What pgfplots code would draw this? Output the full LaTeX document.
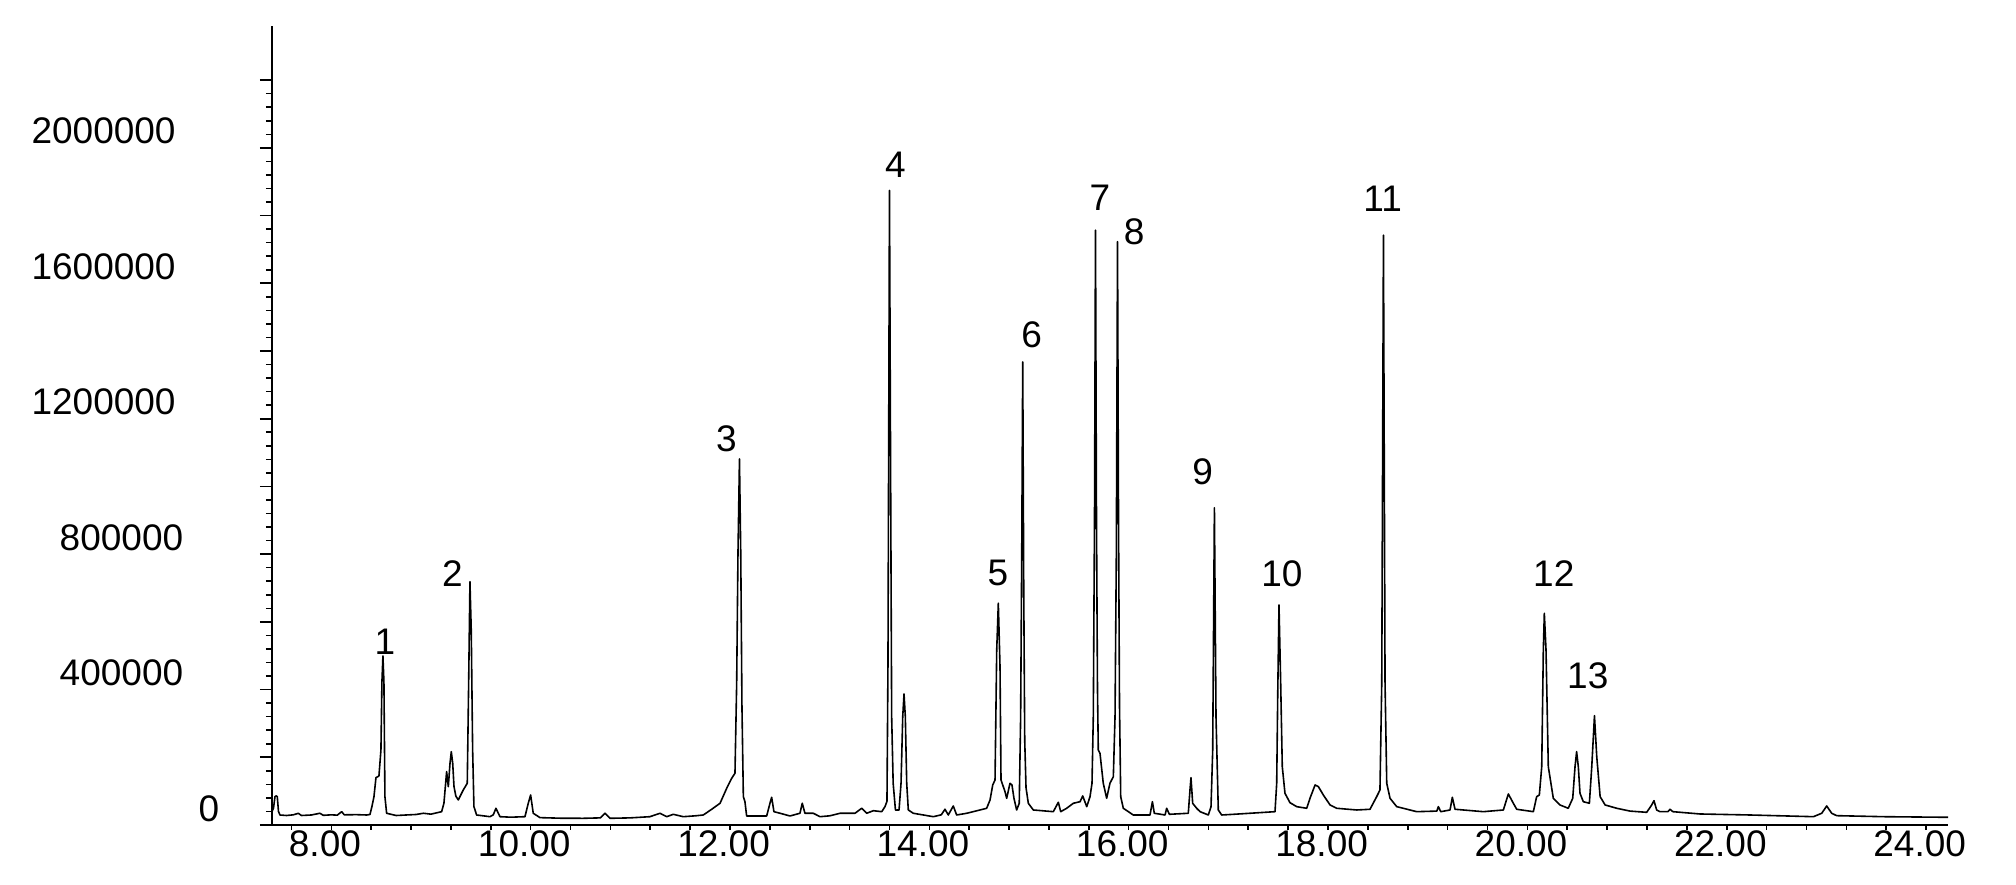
\documentclass[border=0pt]{standalone}
\usepackage{fontspec}
\setmainfont{Liberation Sans}
\usepackage{pgfplots}
\pgfplotsset{compat=1.18}
\newcommand{\lblfont}{\fontsize{9.25}{11}\selectfont}
\begin{document}
\begin{tikzpicture}
\useasboundingbox (0,0) rectangle (504pt,221.25pt);
% x axis (time)
\begin{axis}[
  at={(65.175pt,15pt)}, anchor=south west, scale only axis,
  width=421.825pt, height=199.75pt,
  xmin=7.2916, xmax=24.22, ymin=0, ymax=1,
  hide y axis, axis x line*=bottom,
  axis line style={-, line width=0.45pt, black},
  xtick={8,10,...,24},
  xticklabels={8.00,10.00,12.00,14.00,16.00,18.00,20.00,22.00,24.00},
  minor xtick={7.6,8.0,...,24.0},
  tick align=outside, major tick length=1.25pt, minor tick length=1.25pt,
  every tick/.style={black, line width=0.4pt},
  xticklabel style={font=\lblfont, anchor=north, inner sep=0pt, yshift=0pt, xshift=-1.6pt},
]
\end{axis}
% y axis and data
\begin{axis}[
  at={(68pt,15pt)}, anchor=south west, scale only axis,
  width=419pt, height=199.75pt,
  xmin=7.405, xmax=24.22, ymin=0, ymax=2360000,
  hide x axis, axis y line*=left,
  axis line style={-, line width=0.45pt, black},
  ytick={0,200000,400000,600000,800000,1000000,1200000,1400000,1600000,1800000,2000000,2200000},
  yticklabels={{\hphantom{000}0\hspace*{-10.9pt}\null},{},{400000\hspace*{-1.9pt}\null},{},{800000\hspace*{-1.9pt}\null},{},1200000,{},1600000,{},2000000,{}},
  minor y tick num=4,
  tick align=outside, major tick length=3pt, minor tick length=1.5pt,
  every tick/.style={black, line width=0.4pt},
  scaled y ticks=false,
  yticklabel style={font=\lblfont, anchor=south east, inner sep=0pt, xshift=-20.9pt, yshift=0.7pt},
]
\addplot[black, line width=0.4pt, line join=round, mark=none] coordinates {
(7.405,39300) (7.420,50000) (7.435,83600) (7.447,86000) (7.458,83600) (7.470,40000)
(7.485,29500) (7.55,28000) (7.62,30000) (7.669,34600) (7.70,28000) (7.80,29500)
(7.886,34600) (7.92,28500) (8.00,30000) (8.06,29000) (8.104,39300) (8.13,30000)
(8.25,30500) (8.355,29500) (8.388,31000) (8.408,55000) (8.428,83600) (8.448,139700)
(8.478,144700) (8.498,221500) (8.508,423300) (8.518,499200) (8.528,423000) (8.538,83600)
(8.555,34600) (8.65,28000) (8.75,29500) (8.85,31000) (8.923,34600) (9.00,32000)
(9.107,39300) (9.130,64100) (9.157,157500) (9.174,113200) (9.191,182300) (9.204,216500)
(9.218,182300) (9.231,113200) (9.250,85000) (9.274,73900) (9.324,103400) (9.364,123200)
(9.378,418600) (9.391,718700) (9.404,576000) (9.418,221600) (9.431,54100) (9.458,29500)
(9.592,24500) (9.625,30000) (9.652,49300) (9.692,24500) (9.80,23000) (9.943,24500)
(9.976,64100) (10.000,88600) (10.026,34600) (10.094,21700) (10.30,20000) (10.528,19700)
(10.70,21000) (10.746,34600) (10.796,19700) (11.00,21000) (11.197,24500) (11.298,34600)
(11.365,24500) (11.431,31500) (11.531,24500) (11.65,27000) (11.732,29500) (11.816,46300)
(11.900,64100) (11.967,108400) (12.017,137900) (12.050,152700) (12.067,418600) (12.080,800000)
(12.095,1081000) (12.108,800000) (12.120,350000) (12.134,83600) (12.150,68800) (12.167,26600)
(12.368,26600) (12.401,64100) (12.418,81800) (12.441,39300) (12.502,34600) (12.602,26600)
(12.702,34600) (12.725,64100) (12.752,34600) (12.836,34600) (12.903,24500) (13.000,27000)
(13.104,34600) (13.254,34600) (13.321,49300) (13.372,34600) (13.438,42200) (13.522,39300)
(13.555,54100) (13.575,70000) (13.585,477600) (13.600,1874000) (13.612,1000000) (13.622,319900)
(13.637,123200) (13.66,44000) (13.696,44300) (13.716,123200) (13.733,320000) (13.746,387000)
(13.759,320000) (13.773,123200) (13.789,44300) (13.839,34600) (14.040,24500) (14.120,30000)
(14.157,46400) (14.190,29500) (14.240,56100) (14.274,29500) (14.375,34600) (14.508,44300)
(14.575,49300) (14.609,73900) (14.636,118200) (14.659,133000) (14.676,517000) (14.692,655000)
(14.709,467700) (14.719,133000) (14.742,113200) (14.759,98500) (14.776,78800) (14.809,123200)
(14.829,118200) (14.849,78800) (14.876,44300) (14.902,64100) (14.916,320000) (14.927,800000)
(14.937,1368000) (14.947,700000) (14.957,250000) (14.970,110000) (14.993,64100) (15.043,44300)
(15.244,39300) (15.294,67100) (15.318,39300) (15.378,49300) (15.445,64100) (15.512,68800)
(15.539,85700) (15.579,54100) (15.612,83600) (15.632,123200) (15.645,320000) (15.657,900000)
(15.667,1757000) (15.677,900000) (15.687,400000) (15.695,221500) (15.712,211800) (15.745,123200)
(15.779,78900) (15.812,123200) (15.846,142700) (15.863,320000) (15.876,800000) (15.888,1723000)
(15.898,900000) (15.908,350000) (15.920,83600) (15.946,49300) (16.046,29500) (16.214,29500)
(16.238,68800) (16.257,34600) (16.365,29500) (16.381,49300) (16.408,31500) (16.598,34600)
(16.615,103400) (16.625,139700) (16.642,64100) (16.682,49300) (16.716,39300) (16.799,29500)
(16.826,54100) (16.843,221500) (16.860,937000) (16.876,320000) (16.899,44300) (16.933,29500)
(17.050,31500) (17.217,34600) (17.468,39300) (17.485,123200) (17.496,400000) (17.508,650000)
(17.525,418600) (17.541,172200) (17.568,93600) (17.618,65900) (17.686,54100) (17.786,49300)
(17.819,78900) (17.870,118200) (17.903,113200) (17.953,88600) (18.020,59100) (18.087,49300)
(18.288,44300) (18.421,46400) (18.488,83600) (18.521,103400) (18.539,418600) (18.556,1742000)
(18.572,418600) (18.589,123200) (18.622,78900) (18.689,54100) (18.890,39300) (19.091,41000)
(19.107,54100) (19.131,39300) (19.224,44300) (19.247,81800) (19.274,46400) (19.558,39300)
(19.759,44300) (19.809,91600) (19.859,64100) (19.893,46400) (20.060,39300) (20.093,83600)
(20.120,88600) (20.144,172200) (20.160,517000) (20.170,625400) (20.187,517000) (20.210,172200)
(20.260,78900) (20.327,59100) (20.410,49300) (20.455,78900) (20.478,172200) (20.494,216500)
(20.511,172200) (20.528,93600) (20.561,68800) (20.622,64100) (20.646,172200) (20.673,322900)
(20.696,201800) (20.730,83600) (20.780,59100) (20.897,49300) (21.030,41000) (21.197,37400)
(21.247,59000) (21.270,71800) (21.297,44300) (21.330,39300) (21.410,39300) (21.431,46400)
(21.460,39300) (21.732,32500) (22.234,29500) (22.870,24500) (22.953,34600) (23.003,56100)
(23.053,34600) (23.103,27500) (23.571,24500) (24.220,22700)
};
\begin{scope}[every node/.style={font=\lblfont, inner sep=0pt}]
\node at (axis cs:8.539,542000) {1};
\node at (axis cs:9.216,743500) {2};
\node at (axis cs:11.964,1142000) {3};
\node at (axis cs:13.660,1949600) {4};
\node at (axis cs:14.689,744400) {5};
\node at (axis cs:15.027,1447500) {6};
\node at (axis cs:15.712,1851300) {7};
\node at (axis cs:16.055,1751700) {8};
\node at (axis cs:16.742,1043600) {9};
\node at (axis cs:17.538,743500) {10};
\node at (axis cs:18.548,1849200) {11};
\node at (axis cs:20.265,743500) {12};
\node at (axis cs:20.606,440100) {13};
\end{scope}
\end{axis}
\end{tikzpicture}
\end{document}
